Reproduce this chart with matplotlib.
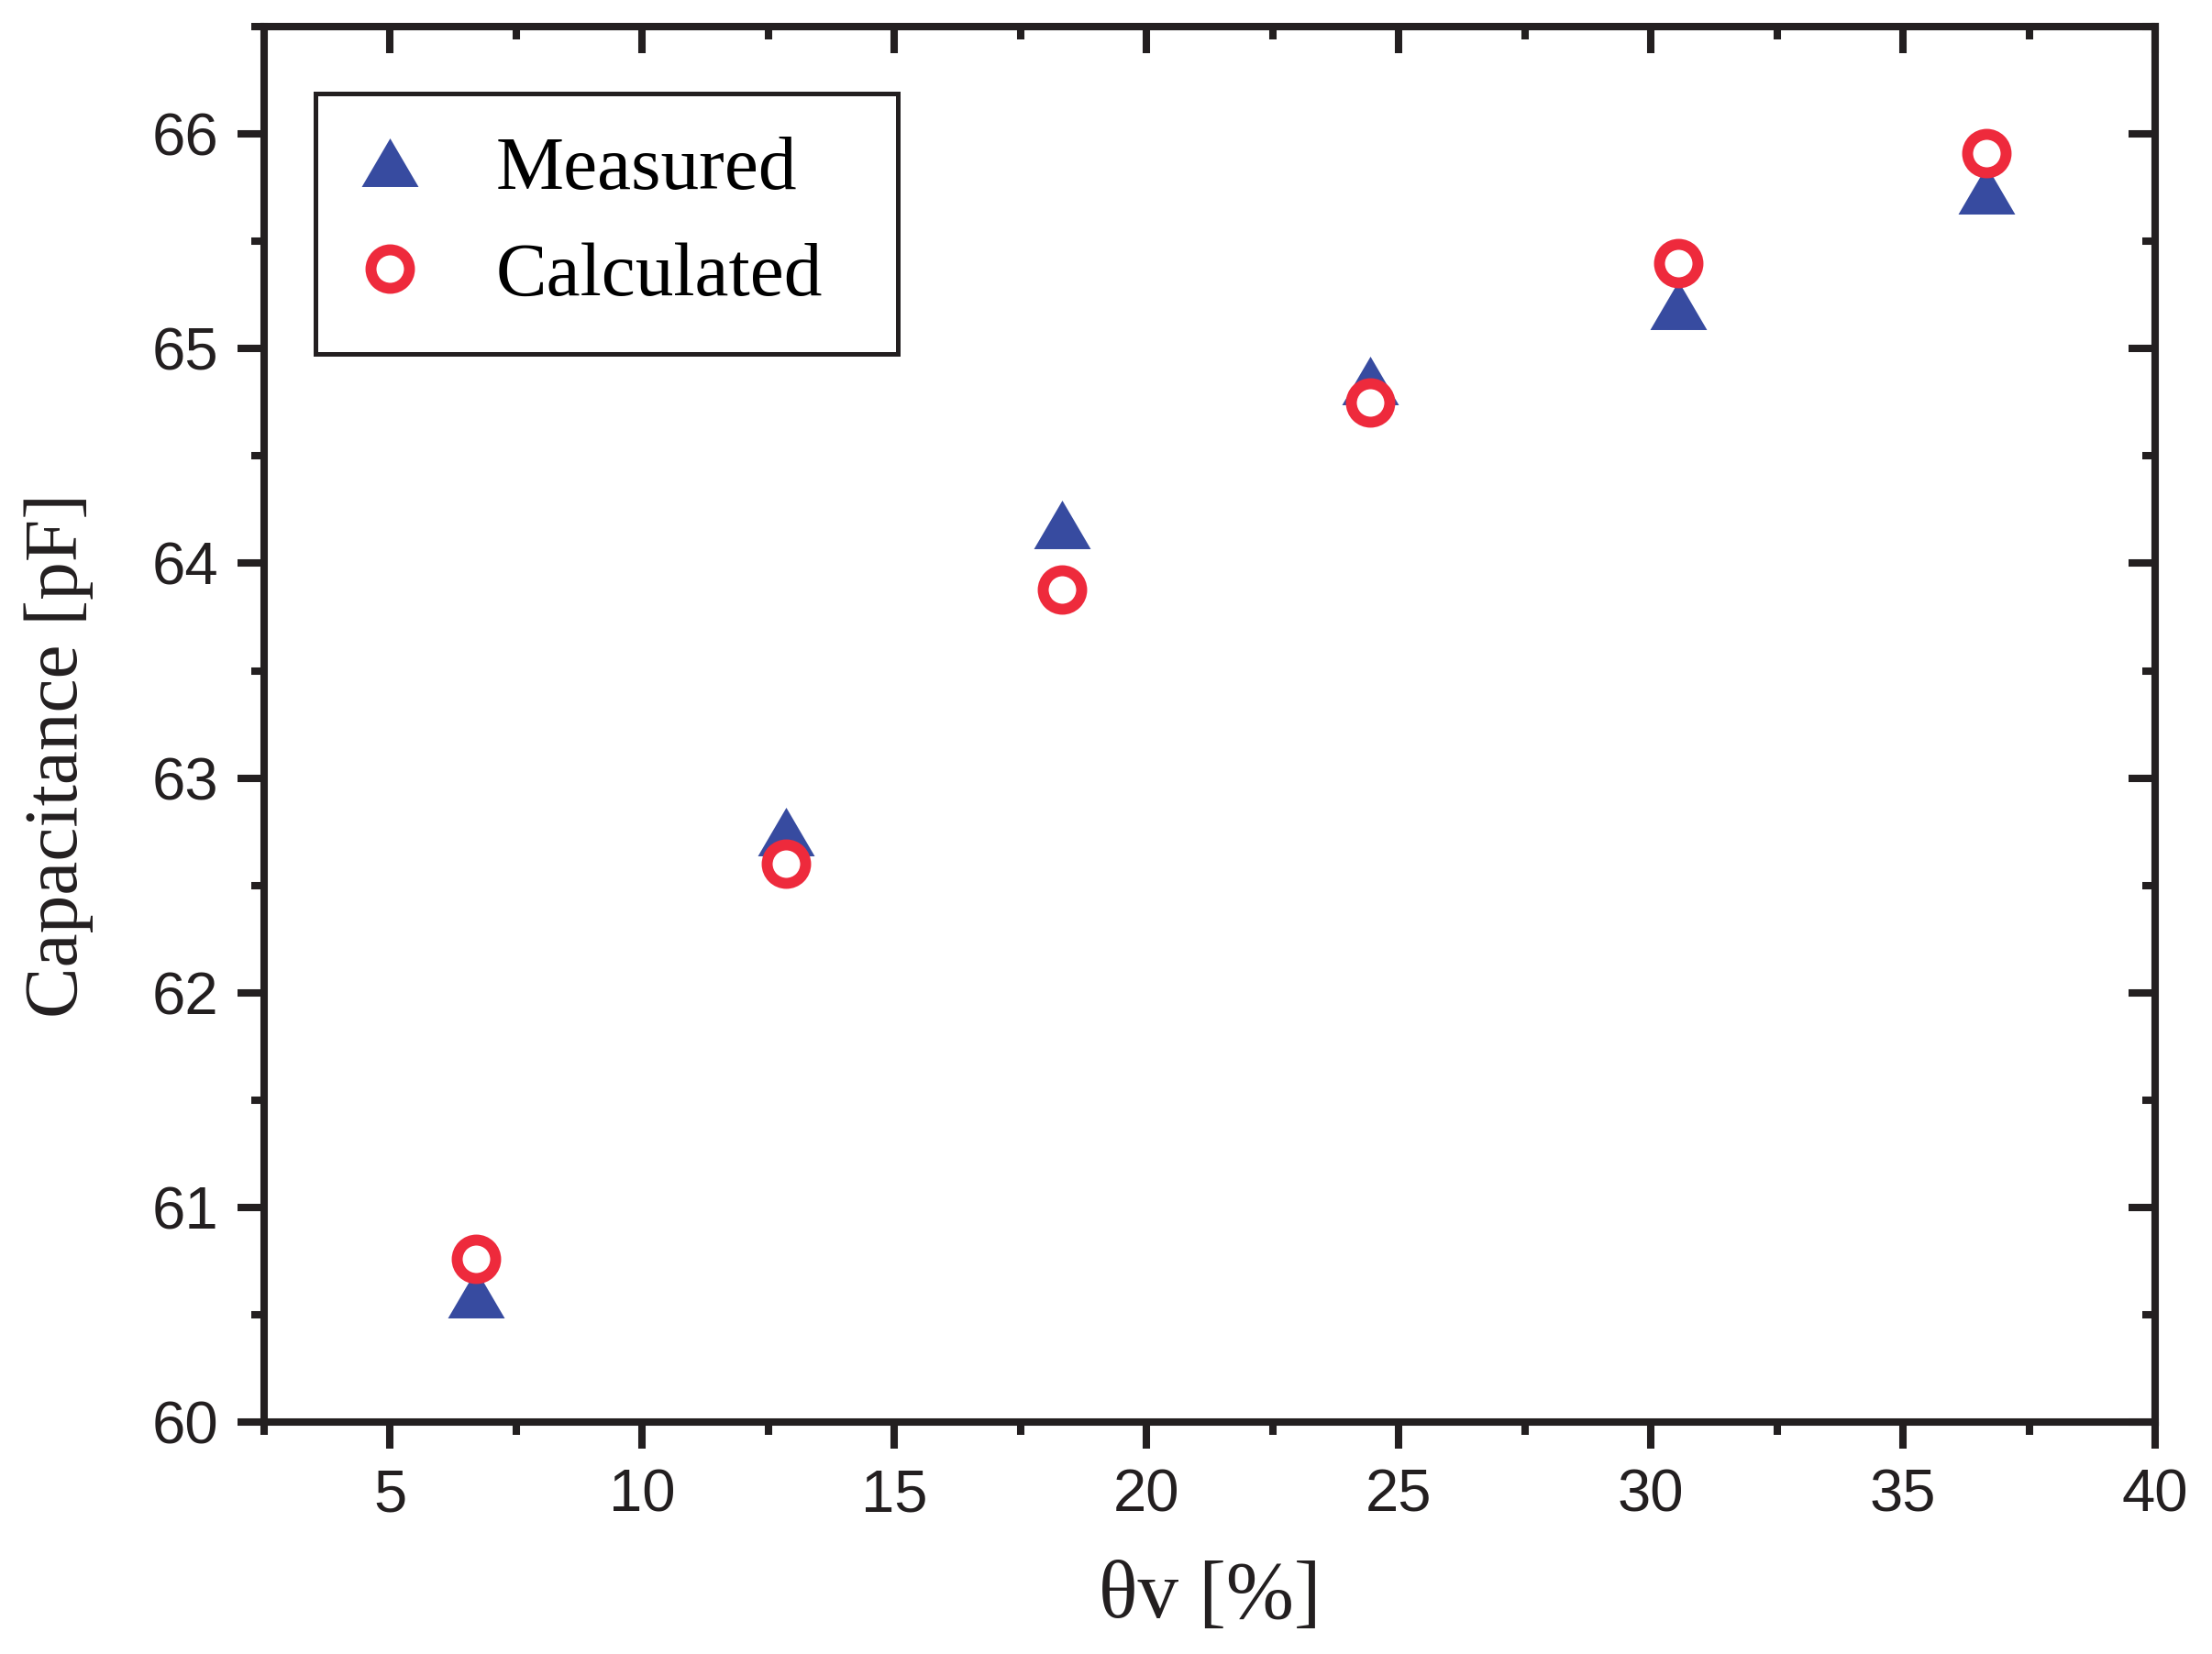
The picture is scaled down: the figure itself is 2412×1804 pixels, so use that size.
import numpy as np
import matplotlib
matplotlib.use("Agg")
import matplotlib.pyplot as plt
from matplotlib.ticker import MultipleLocator

# data
theta_v = [6.7, 12.84, 18.33, 24.44, 30.55, 36.65]
measured = [60.6, 62.75, 64.18, 64.85, 65.2, 65.74]
calculated = [60.76, 62.6, 63.88, 64.75, 65.4, 65.91]

xticks = [5, 10, 15, 20, 25, 30, 35, 40]
yticks = [60, 61, 62, 63, 64, 65, 66]

ink = "#231F20"
blue = "#374BA0"
red = "#EE2A3C"

plt.rcParams["font.family"] = ["Liberation Sans", "DejaVu Sans"]

fig = plt.figure(figsize=(12.06, 9.02), dpi=200)
ax = fig.add_axes([0.1194, 0.1402, 0.8549, 0.8437])

# triangle a bit flatter than matplotlib's '^'
tri = [(0, 0.855), (-1, -0.855), (1, -0.855), (0, 0.855)]

ax.plot(theta_v, measured, linestyle="none", marker=tri, markersize=22.3,
        color=blue, markeredgewidth=0, label="Measured", zorder=3)
ax.plot(theta_v, calculated, linestyle="none", marker="o", markersize=15.1,
        markerfacecolor="white", markeredgecolor=red, markeredgewidth=4.3,
        label="Calculated", zorder=4)

ax.set_xlim(2.5, 40)
ax.set_ylim(60, 66.5)
ax.set_xticks(xticks)
ax.set_yticks(yticks)
ax.xaxis.set_minor_locator(MultipleLocator(2.5))
ax.yaxis.set_minor_locator(MultipleLocator(0.5))

for s in ax.spines.values():
    s.set_linewidth(2.9)
    s.set_color(ink)

ax.tick_params(which="both", direction="out", width=2.9, color=ink,
               top=False, right=False, labelsize=23.5, labelcolor=ink)
ax.tick_params(which="major", length=10.5, pad=7.5)
ax.tick_params(which="minor", length=5)

# inward ticks on top and right
top = ax.secondary_xaxis("top")
top.set_xticks(xticks)
top.xaxis.set_minor_locator(MultipleLocator(2.5))
top.tick_params(which="both", direction="in", width=2.9, color=ink,
                labeltop=False)
top.tick_params(which="major", length=10.5)
top.tick_params(which="minor", length=5)
top.spines["top"].set_linewidth(2.9)
top.spines["top"].set_color(ink)

right = ax.secondary_yaxis("right")
right.set_yticks(yticks)
right.yaxis.set_minor_locator(MultipleLocator(0.5))
right.tick_params(which="both", direction="in", width=2.9, color=ink,
                  labelright=False)
right.tick_params(which="major", length=10.5)
right.tick_params(which="minor", length=5)
right.spines["right"].set_linewidth(2.9)
right.spines["right"].set_color(ink)

ax.set_xlabel("θv [%]", fontsize=32, family="Liberation Serif", color=ink)
ax.set_ylabel("Capacitance [pF]", fontsize=30, family="Liberation Serif", color=ink)
ax.xaxis.set_label_coords(0.5, -0.099)
ax.yaxis.set_label_coords(-0.090, 0.478)

leg = ax.legend(loc="upper left", bbox_to_anchor=(0.027, 0.952, 0.308, 0.0),
                mode="expand", borderaxespad=0, fancybox=False,
                prop={"family": "Liberation Serif", "size": 30},
                handlelength=0.84, handletextpad=0.97, borderpad=0.55,
                labelspacing=0.47, framealpha=1)
leg.get_frame().set_edgecolor(ink)
leg.get_frame().set_linewidth(1.8)

fig.savefig("out.png", dpi=200)
